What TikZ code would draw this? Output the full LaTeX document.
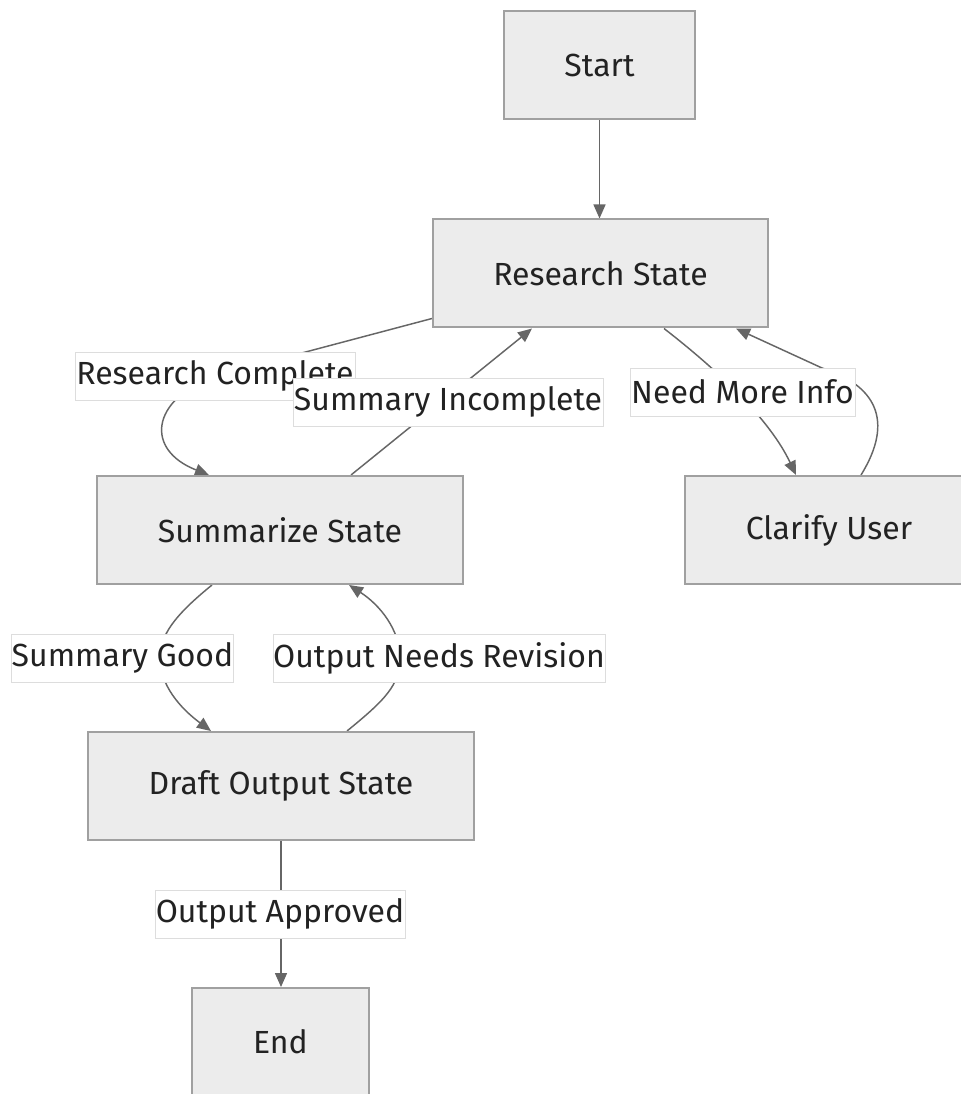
\documentclass[tikz,border=0pt]{standalone}
\usepackage{fontspec}
\setmainfont{Fira Sans}
\usetikzlibrary{arrows.meta,calc}
\pgfdeclarelayer{bg}
\pgfsetlayers{bg,main}
\definecolor{boxfill}{HTML}{ECECEC}
\definecolor{boxline}{HTML}{A0A0A0}
\definecolor{edgecol}{HTML}{666666}
\definecolor{txt}{HTML}{222222}
\definecolor{lblline}{HTML}{DDDDDD}
\begin{document}
\begin{tikzpicture}[x=0.75pt,y=-0.75pt,
  state/.style={draw=boxline,fill=boxfill,line width=1.5pt,minimum height=81pt,inner sep=0pt,text=txt,font=\fontsize{24pt}{28pt}\selectfont},
  elabel/.style={fill=white,draw=lblline,line width=0.5pt,inner sep=0pt,minimum height=36pt,text=txt,font=\fontsize{24pt}{28pt}\selectfont},
  edge/.style={draw=edgecol,line width=1.1pt,-{Triangle[length=10.5pt,width=9pt]}}]
\useasboundingbox (0,0) rectangle (960,1094);
\begin{pgfonlayer}{bg}
\fill[white] (0,0) rectangle (960,1094);
\end{pgfonlayer}
% states
\node[state,minimum width=143.25pt] (start) at (599.5,65.5) {Start};
\node[state,minimum width=251.25pt] (res) at (600.5,273.5) {Research State};
\node[state,minimum width=274.5pt] (sum) at (280,530) {Summarize State};
\node[state,minimum width=216pt] (cla) at (829,530) {Clarify User};
\node[state,minimum width=289.5pt] (dra) at (281,786) {Draft Output State};
\node[state,minimum width=132.75pt] (end) at (280.5,1042) {End};
% edge labels
\node[elabel,minimum width=210pt] (lrc) at (215,376) {Research Complete};
\node[elabel,minimum width=232.5pt] (lsi) at (448,402) {Summary Incomplete};
\node[elabel,minimum width=168.75pt] (lnm) at (742.5,392) {Need More Info};
\node[elabel,minimum width=165.75pt] (lsg) at (122.5,658) {Summary Good};
\node[elabel,minimum width=249pt] (lon) at (439,658) {Output Needs Revision};
\node[elabel,minimum width=187.5pt] (loa) at (280,914) {Output Approved};
% connectors
\begin{pgfonlayer}{bg}
\draw[edge] (start.south) -- (start.south |- res.north);
\draw[edge] ($(res.south west)+(0,-10)$) -- (lrc.center)
  .. controls (150,400) and (145,450) .. ($(sum.north west)+(113,0)$);
\draw[edge] ($(sum.north west)+(255,0)$) -- ($(res.south west)+(100,0)$);
\draw[edge] ($(res.south west)+(232,0)$) .. controls (720,372) and (770,420) .. ($(cla.north west)+(112,0)$);
\draw[edge] ($(cla.north west)+(177,0)$) .. controls (895,420) and (875,385) .. (822,368) -- ($(res.south east)+(-33,0)$);
\draw[edge] ($(sum.south west)+(116,0)$) .. controls (175,615) and (160,635) .. (160,658)
  .. controls (160,685) and (180,708) .. ($(dra.north west)+(124,0)$);
\draw[edge] ($(dra.north west)+(260,0)$) .. controls (385,700) and (400,685) .. (400,658)
  .. controls (400,630) and (380,605) .. ($(sum.south west)+(253,0)$);
\draw[edge] (dra.south) -- (dra.south |- end.north);
\end{pgfonlayer}
\end{tikzpicture}
\end{document}
